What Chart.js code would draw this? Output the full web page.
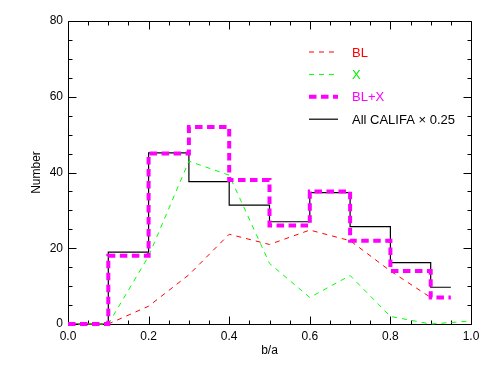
<!DOCTYPE html>
<html>
<head>
<meta charset="utf-8">
<script src="https://cdn.jsdelivr.net/npm/chart.js@4.4.1/dist/chart.umd.min.js"></script>
<style>
  html, body { margin: 0; padding: 0; background: #fff; }
  #wrap { width: 491px; height: 368px; }
</style>
</head>
<body>
<div id="wrap"><canvas id="chart"></canvas></div>
<script>
// histogram bins (b/a edges), last bin is half width
const binEdges = [0.0, 0.1, 0.2, 0.3, 0.4, 0.5, 0.6, 0.7, 0.8, 0.9, 0.95];
const blxCounts = [0, 18, 45, 52, 38, 26, 35, 22, 14, 7];
const califaCounts = [0, 19, 45.2, 37.6, 31.4, 27, 34.7, 25.7, 16.2, 9.7];   // already x 0.25

// dashed curves
const blPos = [0.0, 0.1, 0.2, 0.3, 0.4, 0.5, 0.6, 0.7, 0.8, 0.9];
const blValues = [0, 0, 4.7, 13, 23.7, 21, 24.8, 22, 14, 7];
const xPos = [0.0, 0.1, 0.2, 0.3, 0.4, 0.5, 0.6, 0.7, 0.8, 0.9, 1.0];
const xValues = [0, 0, 17.9, 43, 39.3, 16, 7, 12.8, 2, 0, 0.8];

const seriesLabels = ['BL', 'X', 'BL+X', 'All CALIFA \u00d7 0.25'];

const FONT = '"Liberation Sans", Arial, Helvetica, sans-serif';

// step histogram -> points at the edges (value held until next edge)
function stepPoints(edges, counts) {
    return edges.map((e, i) => ({ x: e, y: counts[Math.min(i, counts.length - 1)] }));
}
function linePoints(xs, ys) {
    return xs.map((v, i) => ({ x: v, y: ys[i] }));
}

// box frame with inward major/minor ticks on all sides
const frameTicks = {
    id: 'frameTicks',
    beforeDatasetsDraw(chart) {
        const { ctx, chartArea: a, scales } = chart;
        const L = Math.round(a.left) + 0.5, R = Math.round(a.right) + 0.5;
        const T = Math.round(a.top) + 0.5, B = Math.round(a.bottom) + 0.5;
        ctx.save();
        ctx.strokeStyle = '#000';
        ctx.lineWidth = 1;
        ctx.beginPath();
        ctx.rect(L, T, R - L, B - T);
        for (let i = 0; i <= 20; i++) {
            const px = Math.round(scales.x.getPixelForValue(i * 0.05)) + 0.5;
            const len = i % 4 === 0 ? 8 : 4;
            ctx.moveTo(px, B); ctx.lineTo(px, B - len);
            ctx.moveTo(px, T); ctx.lineTo(px, T + len);
        }
        for (let i = 0; i <= 16; i++) {
            const py = Math.round(scales.y.getPixelForValue(i * 5)) + 0.5;
            const len = i % 4 === 0 ? 8 : 4;
            ctx.moveTo(L, py); ctx.lineTo(L + len, py);
            ctx.moveTo(R, py); ctx.lineTo(R - len, py);
        }
        ctx.stroke();
        ctx.restore();
    }
};

// legend drawn inside the plot, top right
const insideLegend = {
    id: 'insideLegend',
    afterDatasetsDraw(chart) {
        const ctx = chart.ctx;
        ctx.save();
        ctx.font = '13px ' + FONT;
        ctx.textBaseline = 'middle';
        ctx.textAlign = 'left';
        chart.data.datasets.forEach((ds, i) => {
            const y = 52 + i * 22.4;
            ctx.strokeStyle = ds.borderColor;
            ctx.lineWidth = ds.borderWidth;
            ctx.setLineDash(ds.borderDash || []);
            ctx.beginPath();
            ctx.moveTo(309, y);
            ctx.lineTo(338, y);
            ctx.stroke();
            ctx.setLineDash([]);
            ctx.fillStyle = ds.textColor;
            ctx.fillText(ds.label, 352, y + 1);
        });
        ctx.restore();
    }
};

const ctx = document.getElementById('chart').getContext('2d');
const chart = new Chart(ctx, {
    type: 'line',
    data: {
        datasets: [
            {
                label: seriesLabels[0],
                data: linePoints(blPos, blValues),
                borderColor: '#ff0000',
                textColor: '#ff0000',
                borderWidth: 1,
                borderDash: [5, 5],
                pointRadius: 0,
                order: 2
            },
            {
                label: seriesLabels[1],
                data: linePoints(xPos, xValues),
                borderColor: '#00ff00',
                textColor: '#00ee00',
                borderWidth: 1,
                borderDash: [5, 5],
                pointRadius: 0,
                order: 1
            },
            {
                label: seriesLabels[2],
                data: stepPoints(binEdges, blxCounts),
                stepped: 'before',
                borderColor: '#ff00ff',
                textColor: '#ff00ff',
                borderWidth: 4,
                borderDash: [7.5, 4.5],
                pointRadius: 0,
                order: 0
            },
            {
                label: seriesLabels[3],
                data: stepPoints(binEdges, califaCounts),
                stepped: 'before',
                borderColor: '#000000',
                textColor: '#000000',
                borderWidth: 1.2,
                pointRadius: 0,
                order: 3
            }
        ]
    },
    options: {
        responsive: true,
        maintainAspectRatio: false,
        animation: false,
        layout: { padding: { left: 0, right: 20, top: 21, bottom: 0 } },
        elements: { line: { tension: 0, fill: false } },
        datasets: { line: { clip: 4 } },
        scales: {
            x: {
                type: 'linear',
                min: 0,
                max: 1,
                border: { display: false },
                grid: { display: false, drawTicks: false },
                ticks: {
                    stepSize: 0.2,
                    padding: 5,
                    color: '#000',
                    font: { family: FONT, size: 12 },
                    callback: function(value) { return value.toFixed(1); }
                },
                title: {
                    display: true,
                    text: 'b/a',
                    color: '#000',
                    font: { family: FONT, size: 12 },
                    padding: { top: 0, bottom: 10 }
                },
                afterFit: function(scale) { scale.height = 44; }
            },
            y: {
                min: 0,
                max: 80,
                border: { display: false },
                grid: { display: false, drawTicks: false },
                ticks: {
                    stepSize: 20,
                    padding: 5,
                    color: '#000',
                    font: { family: FONT, size: 12 }
                },
                title: {
                    display: true,
                    text: 'Number',
                    color: '#000',
                    font: { family: FONT, size: 12 },
                    padding: { top: 29, bottom: 0 }
                },
                afterFit: function(scale) { scale.width = 68; }
            }
        },
        plugins: {
            legend: { display: false },
            tooltip: { enabled: false }
        }
    },
    plugins: [frameTicks, insideLegend]
});
</script>
</body>
</html>
